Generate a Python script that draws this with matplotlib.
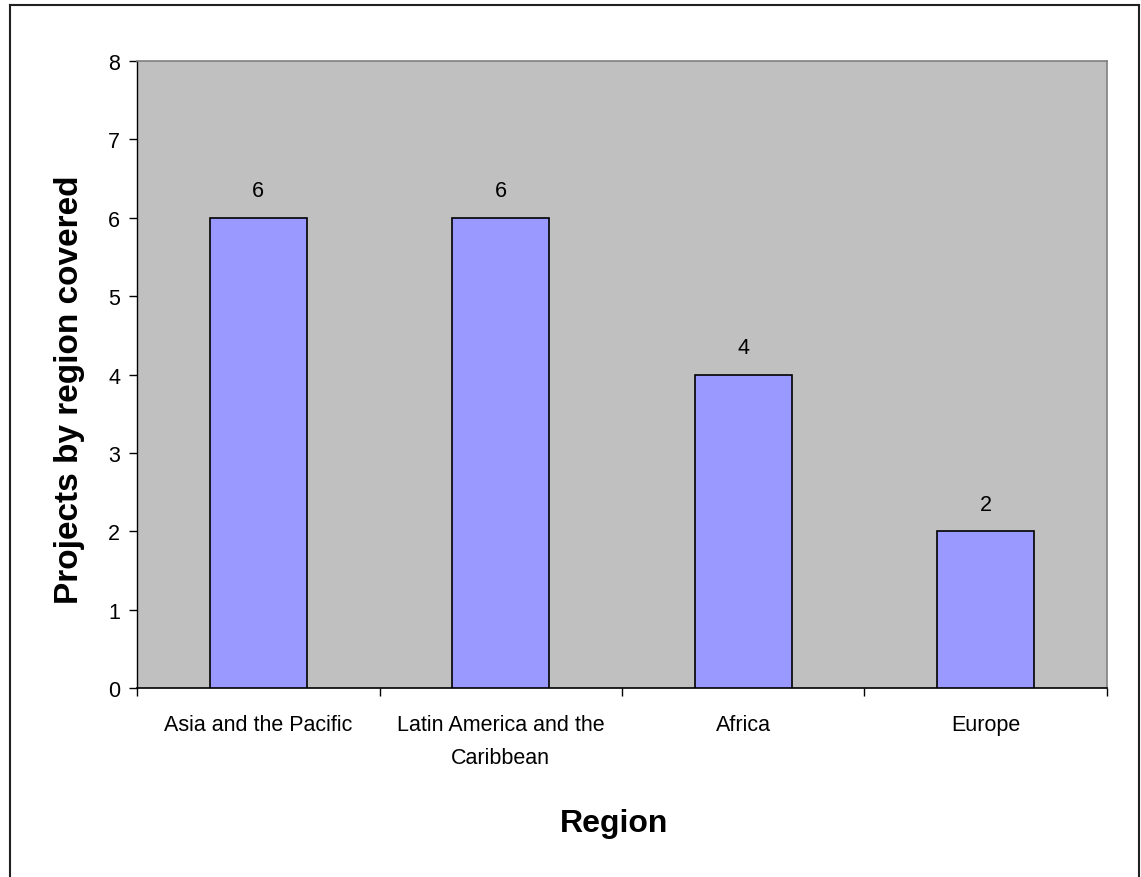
import matplotlib
matplotlib.use("Agg")
import matplotlib.pyplot as plt
from matplotlib.lines import Line2D

categories = ["Asia and the Pacific", "Latin America and the\nCaribbean", "Africa", "Europe"]
values = [6, 6, 4, 2]
y_ticks = [0, 1, 2, 3, 4, 5, 6, 7, 8]

plt.rcParams['font.family'] = ['Liberation Sans', 'DejaVu Sans']

W, H = 1141, 878
fig = plt.figure(figsize=(W / 100, H / 100), dpi=100)
fig.patch.set_facecolor('white')

L, R, T, B = 137, 1107, 62, 689
ax = fig.add_axes([L / W, (H - B) / H, (R - L) / W, (B - T) / H])
ax.set_facecolor('#C0C0C0')

x = list(range(len(categories)))
bars = ax.bar(x, values, width=0.4, color='#9999FF', edgecolor='black', linewidth=1.2, zorder=3)

for xi, v in zip(x, values):
    ax.annotate(str(v), (xi, v), xytext=(0, 12), textcoords='offset points',
                ha='center', va='bottom', fontsize=15.5)

ax.set_xlim(-0.5, len(categories) - 0.5)
ax.set_ylim(0, 8)
ax.set_yticks(y_ticks)
ax.set_yticklabels([str(t) for t in y_ticks], fontsize=15.5)

ax.set_xticks([i - 0.5 for i in range(len(categories) + 1)])
ax.set_xticklabels([])
ax.set_xticks(x, minor=True)
ax.set_xticklabels(categories, minor=True, fontsize=15.5, linespacing=1.75)
ax.tick_params(axis='x', which='minor', length=0, pad=19)
ax.tick_params(axis='x', which='major', length=5.5, width=1, color='black', direction='out')
ax.tick_params(axis='y', length=5.5, width=1, color='black', direction='out', pad=6.5)

ax.spines['left'].set_color('black')
ax.spines['bottom'].set_color('black')
ax.spines['left'].set_linewidth(1)
ax.spines['bottom'].set_linewidth(1.2)
ax.spines['top'].set_color('#808080')
ax.spines['right'].set_color('#808080')
ax.spines['top'].set_linewidth(1.2)
ax.spines['right'].set_linewidth(1.2)

fig.text(70 / W, 1 - 390 / H, "Projects by region covered", rotation=90,
         ha='center', va='center', fontsize=24, fontweight='bold')
fig.text(614 / W, 1 - 824 / H, "Region", ha='center', va='center',
         fontsize=23, fontweight='bold')

# chart area border (bottom edge lies beyond the image)
bx0, bx1, by0 = 9.5 / W, 1139 / W, 1 - 5.5 / H
for xs, ys in [([bx0, bx0], [by0, -0.01]), ([bx0, bx1], [by0, by0]), ([bx1, bx1], [by0, -0.01])]:
    fig.add_artist(Line2D(xs, ys, transform=fig.transFigure, color='#202020', linewidth=1.5))

fig.savefig('out.png', dpi=100, facecolor='white')
